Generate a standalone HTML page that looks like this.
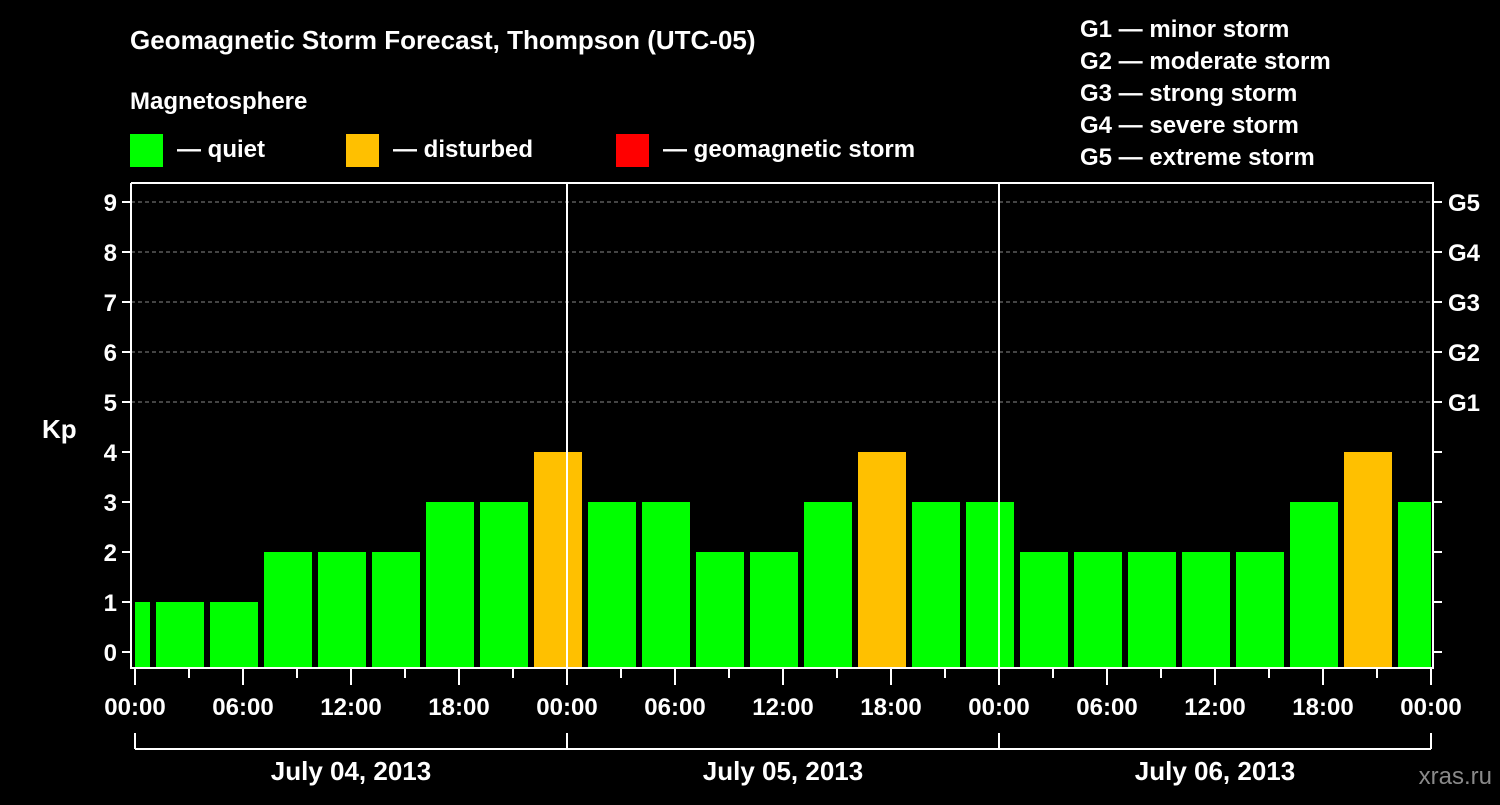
<!DOCTYPE html>
<html><head><meta charset="utf-8"><style>
body{margin:0;background:#000;width:1500px;height:800px;overflow:hidden}
svg text{font-family:"Liberation Sans",sans-serif;font-weight:bold;fill:#fff}
</style></head><body>
<svg id="c" width="1500" height="800">
<text x="130" y="49" font-size="26">Geomagnetic Storm Forecast, Thompson (UTC-05)</text>
<text x="130" y="109" font-size="24">Magnetosphere</text>
<g><rect x="130" y="134" width="33" height="33" fill="#00ff00"/><text x="177" y="157" font-size="24">— quiet</text></g>
<g><rect x="346" y="134" width="33" height="33" fill="#ffc000"/><text x="393" y="157" font-size="24">— disturbed</text></g>
<g><rect x="616" y="134" width="33" height="33" fill="#ff0000"/><text x="663" y="157" font-size="24">— geomagnetic storm</text></g>
<g font-size="24">
<text x="1080" y="37">G1 — minor storm</text><text x="1080" y="69">G2 — moderate storm</text><text x="1080" y="101">G3 — strong storm</text><text x="1080" y="133">G4 — severe storm</text><text x="1080" y="165">G5 — extreme storm</text></g>
<text x="42" y="438" font-size="26">Kp</text>
<text x="1492" y="784" font-size="24" text-anchor="end" fill="#888" style="fill:#8a8a8a;font-weight:normal">xras.ru</text>
<g id="g"></g>
</svg>
<script>
const kpValues=[1,1,1,2,2,2,3,3,4,3,3,2,2,3,4,3,3,2,2,2,2,2,3,4,3];
const kpTicks=[0,1,2,3,4,5,6,7,8,9];
const gLabels=["G1","G2","G3","G4","G5"];
const timeLabels=["00:00","06:00","12:00","18:00"];
const dayLabels=["July 04, 2013","July 05, 2013","July 06, 2013"];
const NS="http://www.w3.org/2000/svg",g=document.getElementById('g');
const x0=135,pxH=18,L=131,R=1433,T=183,B=668;
const y=v=>652-50*v, x=h=>x0+h*pxH;
function el(t,a,txt){const e=document.createElementNS(NS,t);for(const k in a)e.setAttribute(k,a[k]);if(txt!=null)e.textContent=txt;g.appendChild(e);return e;}
kpTicks.forEach(v=>{
 if(v>=5){const d=el('line',{x1:L,x2:R,y1:y(v),y2:y(v),stroke:'#888','stroke-dasharray':'4,3'});}
 el('line',{x1:L-9,x2:L,y1:y(v),y2:y(v),stroke:'#fff','stroke-width':2});
 el('line',{x1:R,x2:R+9,y1:y(v),y2:y(v),stroke:'#fff','stroke-width':2});
 const t=el('text',{x:L-14,y:y(v)+9,'font-size':24,'text-anchor':'end'},String(v));
 
});
gLabels.forEach((s,i)=>{const t=el('text',{x:1448,y:y(5+i)+9,'font-size':24},s);});
kpValues.forEach((v,k)=>{
 const c=x(-0.5+3*k);let a=Math.max(c-24,L+4),b=Math.min(c+24,R-2);
 const r=el('rect',{x:a,y:y(v),width:b-a,height:B-y(v),fill:v>=5?'#ff0000':v>=4?'#ffc000':'#00ff00'});
 
});
[1,2].forEach(d=>{const l=el('line',{x1:x(24*d),x2:x(24*d),y1:T,y2:B,stroke:'#fff','stroke-width':2});});
const f=el('polyline',{points:`${L},${T} ${R},${T} ${R},${B} ${L},${B} ${L},${T}`,fill:'none',stroke:'#fff','stroke-width':2});

for(let h=0;h<=72;h+=3){const lg=h%6==0;el('line',{x1:x(h),x2:x(h),y1:B,y2:B+(lg?17:10),stroke:'#fff','stroke-width':2});
 if(lg){const t=el('text',{x:x(h),y:715,'font-size':24,'text-anchor':'middle'},timeLabels[(h/6)%4]);}}
el('line',{x1:x(0),x2:x(72),y1:749,y2:749,stroke:'#fff','stroke-width':2});
for(let d=0;d<=3;d++)el('line',{x1:x(24*d),x2:x(24*d),y1:733,y2:749,stroke:'#fff','stroke-width':2});
dayLabels.forEach((s,d)=>{const t=el('text',{x:x(24*d+12),y:780,'font-size':26,'text-anchor':'middle'},s);});
</script>
</body></html>
